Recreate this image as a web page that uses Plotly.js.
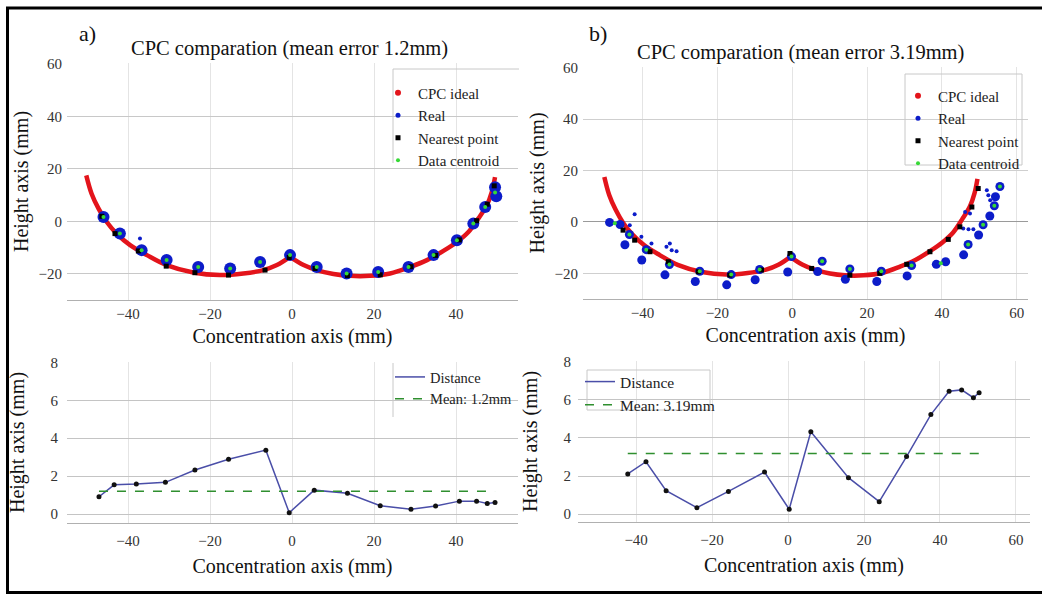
<!DOCTYPE html>
<html><head><meta charset="utf-8">
<script src="https://cdn.plot.ly/plotly-3.0.1.min.js"></script>
<style>html,body{margin:0;padding:0;background:#fff}#chart{width:1042px;height:595px}</style>
</head><body><div id="chart"></div>
<script>
// ---------- Ideal CPC profile (same in both panels) ----------
var cpcLeftX  = [-50.2, -48.9, -47.2, -45.2, -42.8, -39.5, -35.4, -30.6, -24.1, -17.6, -11.9, -7.0, -3.7, -0.5];
var cpcLeftY  = [17.5, 10.5, 4.8, -0.3, -4.7, -9.1, -12.9, -16.7, -19.5, -20.5, -19.9, -18.6, -16.7, -13.6];
var cpcRightX = [-0.5, 2.8, 6.0, 10.1, 14.1, 19.0, 23.9, 28.8, 32.9, 36.9, 40.2, 43.0, 45.4, 47.5, 48.7, 49.5];
var cpcRightY = [-13.6, -16.7, -18.6, -20.1, -20.8, -20.8, -19.9, -17.4, -14.8, -11.3, -7.9, -4.1, 1.0, 6.1, 11.1, 16.8];

// ---------- Panel a) measured clusters ----------
var realA_x = [-46.0, -42.0, -36.7, -30.6, -22.9, -15.1, -7.8, -0.5, 6.0, 13.3, 21.0, 28.4, 34.5, 40.2, 44.2, 47.1, 49.5, 49.8];
var realA_y = [1.6, -4.7, -11.0, -14.8, -17.4, -18.0, -15.5, -12.9, -17.4, -19.9, -19.3, -17.4, -12.9, -7.2, -0.9, 5.4, 13.0, 9.5];
var strayA_x = [-37.1];
var strayA_y = [-6.6];
var nearA_x = [-46.4, -43.2, -37.5, -30.7, -23.7, -15.5, -6.6, -0.7, 5.6, 13.5, 21.5, 29.0, 35.0, 40.8, 45.0, 47.6, 49.3];
var nearA_y = [1.9, -4.7, -11.3, -17.1, -19.6, -20.5, -18.6, -13.8, -18.0, -20.7, -20.4, -17.3, -13.0, -7.1, 0.2, 6.5, 13.5];
var centA_x = [-46.0, -42.0, -36.7, -30.6, -22.9, -15.1, -7.8, -0.5, 6.0, 13.3, 21.0, 28.4, 34.5, 40.2, 44.2, 47.1, 49.5];
var centA_y = [1.6, -4.7, -11.0, -14.8, -17.4, -18.0, -15.5, -12.9, -17.4, -19.9, -19.3, -17.4, -12.9, -7.2, -0.9, 5.4, 11.0];

// ---------- Panel b) measured clusters ----------
var realB_x = [-48.8, -46.0, -43.5, -44.7, -39.0, -40.2, -32.8, -34.0, -24.7, -25.9, -16.3, -17.5, -8.7, -9.9, -0.2, -1.2,
               8.0, 6.8, 15.4, 14.2, 23.8, 22.6, 31.9, 30.7, 38.5, 41.0, 47.0, 45.8, 51.0, 49.8, 54.0, 52.8, 55.5, 54.3];
var realB_y = [-0.2, -1.0, -4.9, -8.9, -10.8, -14.8, -16.6, -20.6, -19.2, -23.2, -20.5, -24.5, -18.5, -22.5, -13.5, -19.5,
               -15.3, -19.3, -18.3, -22.3, -19.2, -23.2, -17.0, -21.0, -16.5, -15.5, -8.8, -12.8, -1.1, -5.1, 6.3, 2.3, 13.8, 9.8];
var strayB_x = [-42.1, -43.4, -40.3, -37.6, -33.6, -32.2, -30.9, -32.7, 46.2, 47.5, 45.7, 47.1, 48.4, 52.0, 52.4, 52.9];
var strayB_y = [3.0, -1.3, -5.8, -8.4, -9.7, -11.0, -11.4, -8.4, 3.9, 3.3, -2.6, -2.9, -2.9, 12.3, 10.4, 8.4];
var nearB_x = [-45.2, -42.1, -38.0, -33.1, -25.1, -16.7, -8.2, -0.6, 5.2, 15.4, 23.4, 30.6, 36.8, 41.7, 44.8, 48.0, 49.7];
var nearB_y = [-3.2, -7.1, -11.6, -15.5, -19.4, -20.7, -18.7, -12.3, -18.1, -20.7, -20.0, -16.5, -11.6, -6.8, -1.9, 5.8, 13.0];
var centB_x = [-47.4, -43.5, -39.0, -32.8, -24.7, -16.3, -8.7, -0.2, 8.0, 15.4, 23.8, 31.9, 39.7, 47.0, 51.0, 54.0, 55.5];
var centB_y = [-0.5, -4.9, -10.8, -16.6, -19.2, -20.5, -18.5, -13.5, -15.3, -18.3, -19.2, -17.0, -16.1, -8.8, -1.1, 6.3, 13.8];

// ---------- Distance profiles ----------
var distA_x = [-47.1, -43.4, -38.0, -30.9, -23.7, -15.5, -6.4, -0.7, 5.4, 13.5, 21.5, 29.0, 35.0, 40.8, 45.0, 47.6, 49.5];
var distA_y = [0.91, 1.54, 1.58, 1.67, 2.32, 2.89, 3.37, 0.07, 1.26, 1.09, 0.44, 0.25, 0.42, 0.68, 0.68, 0.56, 0.61];
var meanA_x = [-47.1, 49.5];
var meanA_y = [1.2, 1.2];
var distB_x = [-42.2, -37.4, -32.1, -24.0, -15.7, -6.2, 0.3, 6.0, 15.9, 24.0, 31.2, 37.6, 42.4, 45.7, 48.8, 50.3];
var distB_y = [2.11, 2.75, 1.23, 0.33, 1.19, 2.21, 0.25, 4.33, 1.91, 0.65, 3.02, 5.23, 6.46, 6.53, 6.12, 6.38];
var meanB_x = [-42.2, 50.3];
var meanB_y = [3.19, 3.19];

var titleA = 'CPC comparation (mean error 1.2mm)';
var titleB = 'CPC comparation (mean error 3.19mm)';
var legendNames = ['CPC ideal', 'Real', 'Nearest point', 'Data centroid'];

// ---------- styling ----------
var SERIF = 'Liberation Serif, Times New Roman, serif';
var RED = '#e3141b', BLUE = '#0c1cc9', BLACK = '#000000', GREEN = '#36d936';
var DLINE = '#4a4ea8', MEAN = '#2f8f2f';

function cpcTrace(xa, ya) {
  return {x: cpcLeftX.concat([null], cpcRightX), y: cpcLeftY.concat([null], cpcRightY),
          xaxis: xa, yaxis: ya, mode: 'lines', line: {color: RED, width: 4.5, shape: 'spline'},
          showlegend: false, hoverinfo: 'skip', connectgaps: false};
}
function proxies(xa, ya, lg) {
  var cols = [RED, BLUE, BLACK, GREEN];
  var sz = [6, 5, 5, 4];
  return legendNames.map(function (n, i) {
    return {x: [null], y: [null], xaxis: xa, yaxis: ya, mode: 'markers', name: n, legend: lg,
            marker: {color: cols[i], size: sz[i], symbol: i === 2 ? 'square' : 'circle'}};
  });
}

var traces = [];
// panel a top
traces.push(cpcTrace('x', 'y'));
traces.push({x: realA_x, y: realA_y, xaxis: 'x', yaxis: 'y', mode: 'markers', marker: {color: BLUE, size: 12}, showlegend: false});
traces.push({x: strayA_x, y: strayA_y, xaxis: 'x', yaxis: 'y', mode: 'markers', marker: {color: BLUE, size: 4}, showlegend: false});
traces.push({x: nearA_x, y: nearA_y, xaxis: 'x', yaxis: 'y', mode: 'markers', marker: {color: BLACK, size: 5, symbol: 'square'}, showlegend: false});
traces.push({x: centA_x, y: centA_y, xaxis: 'x', yaxis: 'y', mode: 'markers', marker: {color: GREEN, size: 4}, showlegend: false});
traces = traces.concat(proxies('x', 'y', 'legend'));
// panel b top
traces.push(cpcTrace('x2', 'y2'));
traces.push({x: realB_x, y: realB_y, xaxis: 'x2', yaxis: 'y2', mode: 'markers', marker: {color: BLUE, size: 9}, showlegend: false});
traces.push({x: strayB_x, y: strayB_y, xaxis: 'x2', yaxis: 'y2', mode: 'markers', marker: {color: BLUE, size: 4}, showlegend: false});
traces.push({x: nearB_x, y: nearB_y, xaxis: 'x2', yaxis: 'y2', mode: 'markers', marker: {color: BLACK, size: 5, symbol: 'square'}, showlegend: false});
traces.push({x: centB_x, y: centB_y, xaxis: 'x2', yaxis: 'y2', mode: 'markers', marker: {color: GREEN, size: 4}, showlegend: false});
traces = traces.concat(proxies('x2', 'y2', 'legend2'));
// panel a bottom
traces.push({x: distA_x, y: distA_y, xaxis: 'x3', yaxis: 'y3', mode: 'lines', name: 'Distance', legend: 'legend3', line: {color: DLINE, width: 1.5}});
traces.push({x: meanA_x, y: meanA_y, xaxis: 'x3', yaxis: 'y3', mode: 'lines', name: 'Mean: 1.2mm', legend: 'legend3', line: {color: MEAN, width: 1.5, dash: 'dash'}});
traces.push({x: distA_x, y: distA_y, xaxis: 'x3', yaxis: 'y3', mode: 'markers', marker: {color: '#111', size: 5}, showlegend: false});
// panel b bottom
traces.push({x: distB_x, y: distB_y, xaxis: 'x4', yaxis: 'y4', mode: 'lines', name: 'Distance', legend: 'legend4', line: {color: DLINE, width: 1.5}});
traces.push({x: meanB_x, y: meanB_y, xaxis: 'x4', yaxis: 'y4', mode: 'lines', name: 'Mean: 3.19mm', legend: 'legend4', line: {color: MEAN, width: 1.5, dash: 'dash'}});
traces.push({x: distB_x, y: distB_y, xaxis: 'x4', yaxis: 'y4', mode: 'markers', marker: {color: '#111', size: 5}, showlegend: false});

var W = 1042, H = 595;
function dx(a, b) { return [a / W, b / W]; }
function dy(top, bot) { return [1 - bot / H, 1 - top / H]; }
var tickF = {family: SERIF, size: 15, color: '#333'};
var titleF = {family: SERIF, size: 20, color: '#111'};

function xax(dom, rng, anchor, standoff, lbl, grid) {
  return {domain: dom, range: rng, anchor: anchor, dtick: 20, tick0: 0, ticks: '', tickfont: tickF,
          showgrid: true, gridcolor: grid, zeroline: false, showline: true, linecolor: '#b0b0b0',
          ticklabelstandoff: lbl, fixedrange: true,
          title: {text: 'Concentration axis (mm)', font: titleF, standoff: standoff}};
}
function yax(dom, rng, anchor, dt, standoff, lbl, grid) {
  return {domain: dom, range: rng, anchor: anchor, dtick: dt, tick0: 0, ticks: '', tickfont: tickF,
          showgrid: true, gridcolor: grid, zeroline: false, showline: false,
          ticklabelstandoff: lbl, fixedrange: true,
          title: {text: 'Height axis (mm)', font: titleF, standoff: standoff}};
}
function legendAt(px, py, fs) {
  return {x: px / W, y: 1 - py / H, xanchor: 'left', yanchor: 'top', bgcolor: 'rgba(0,0,0,0)',
          borderwidth: 0, font: {family: SERIF, size: fs, color: '#222'}, tracegroupgap: 0};
}
function line(x0, y0, x1, y1, c, w) {
  return {type: 'line', xref: 'paper', yref: 'paper', x0: x0 / W, x1: x1 / W, y0: 1 - y0 / H, y1: 1 - y1 / H,
          line: {color: c, width: w}};
}
function ann(t, px, py, f) {
  return {text: t, x: px / W, y: 1 - py / H, xref: 'paper', yref: 'paper', xanchor: 'center', yanchor: 'middle',
          showarrow: false, font: f};
}

var yb2 = yax(dy(67, 299), [-30, 60.3], 'x2', 20, 4, 4, '#cfcfcf');
yb2.zeroline = true; yb2.zerolinecolor = '#9a9a9a'; yb2.zerolinewidth = 1;

var layout = {
  width: W, height: H, margin: {l: 0, r: 0, t: 0, b: 0},
  paper_bgcolor: '#fff', plot_bgcolor: '#fff', font: {family: SERIF},
  xaxis:  xax(dx(67, 518), [-54.9, 55.1], 'y', 7, 0, '#e4e4e4'),
  yaxis:  yax(dy(63, 300), [-30, 60.3], 'x', 20, 4, 4, '#c8c8c8'),
  xaxis2: xax(dx(583, 1028), [-55.9, 63.0], 'y2', 7, 0, '#e4e4e4'),
  yaxis2: yb2,
  xaxis3: xax(dx(67, 518), [-54.9, 55.1], 'y3', 10, 4, '#e4e4e4'),
  yaxis3: yax(dy(362, 523), [-0.474, 8.02], 'x3', 2, 20, 8, '#c4c4c4'),
  xaxis4: xax(dx(578, 1030), [-55.3, 63.7], 'y4', 10, 4, '#e4e4e4'),
  yaxis4: yax(dy(361, 522), [-0.42, 8.05], 'x4', 2, 20, 6, '#c4c4c4'),
  legend:  legendAt(378, 76.5, 15),
  legend2: legendAt(898, 79.5, 15),
  legend3: legendAt(390, 361, 14.5),
  legend4: legendAt(580, 365, 15.5),
  annotations: [
    ann('a)', 87, 33, {family: SERIF, size: 22, color: '#111'}),
    ann('b)', 598, 33, {family: SERIF, size: 22, color: '#111'}),
    ann(titleA, 289, 48, {family: SERIF, size: 20.5, color: '#111'}),
    ann(titleB, 800, 52, {family: SERIF, size: 20.5, color: '#111'})
  ],
  shapes: [
    {type: 'rect', xref: 'paper', yref: 'paper', x0: 7.5 / W, x1: 1060 / W, y0: 1 - 592.5 / H, y1: 1 - 8 / H,
     line: {color: '#000', width: 3}},
    line(393, 69, 519, 69, '#c8c8c8', 1), line(393, 69, 393, 163, '#c8c8c8', 1),
    {type: 'rect', xref: 'paper', yref: 'paper', x0: 905 / W, x1: 1022 / W, y0: 1 - 165 / H, y1: 1 - 74 / H,
     line: {color: '#c8c8c8', width: 1}},
    line(393, 363, 393, 417, '#c8c8c8', 1),
    {type: 'rect', xref: 'paper', yref: 'paper', x0: 587 / W, x1: 710 / W, y0: 1 - 410 / H, y1: 1 - 370 / H,
     line: {color: '#c8c8c8', width: 1}}
  ]
};

Plotly.newPlot('chart', traces, layout, {displayModeBar: false, staticPlot: true});
</script></body></html>
